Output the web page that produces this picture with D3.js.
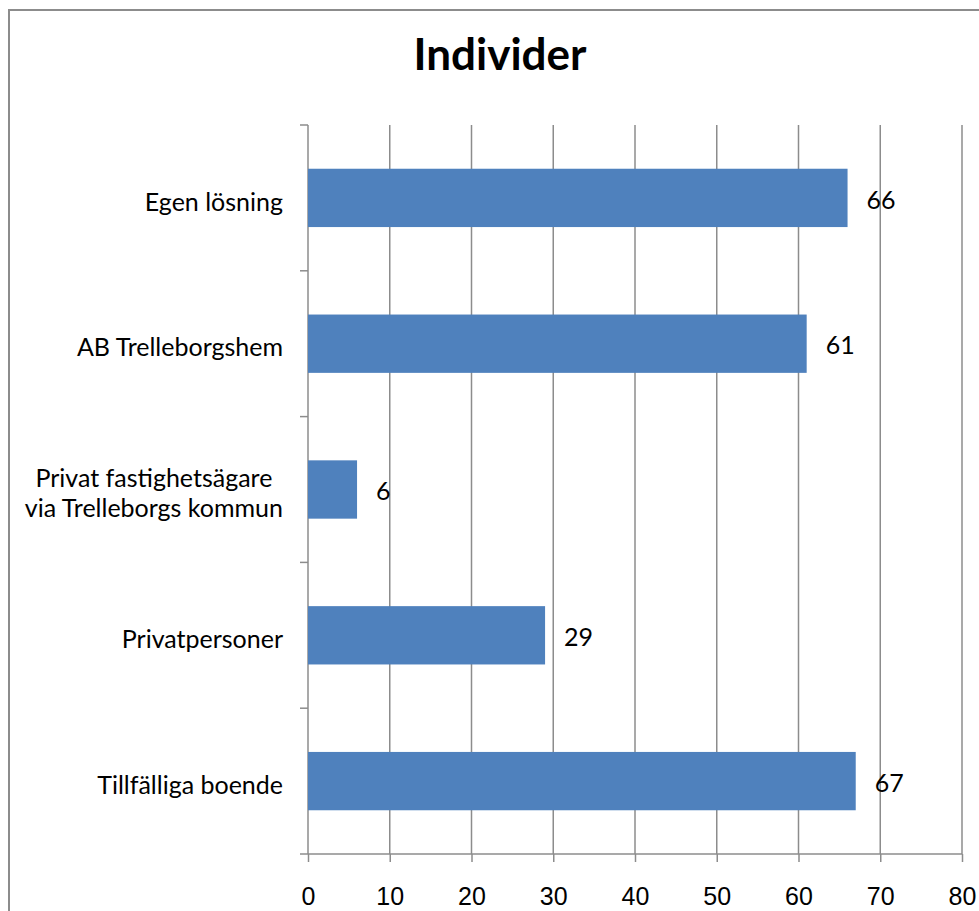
<!DOCTYPE html>
<html>
<head>
<meta charset="utf-8">
<script src="https://cdn.jsdelivr.net/npm/d3@7"></script>
<style>
  body { margin: 0; background: #fff; }
  svg { display: block; font-family: Lato, "Open Sans", sans-serif; }
</style>
</head>
<body>
<svg width="979" height="911"></svg>
<script>
// chart data, top to bottom
var categories = ['Egen lösning', 'AB Trelleborgshem', 'Privat fastighetsägare\nvia Trelleborgs kommun', 'Privatpersoner', 'Tillfälliga boende'];
var values = [66, 61, 6, 29, 67];
var xTicks = [0, 10, 20, 30, 40, 50, 60, 70, 80];
var title = 'Individer';

var svg = d3.select('svg');
var gridColor = '#8c8c8c';
var fontSize = '25px';

// outer frame
svg.append('rect')
    .attr('x', 9).attr('y', 10)
    .attr('width', 1000).attr('height', 1000)
    .attr('fill', 'none')
    .attr('stroke', '#8c8c8c')
    .attr('stroke-width', 2);

svg.append('text')
    .attr('x', 500).attr('y', 70)
    .attr('text-anchor', 'middle')
    .style('font-size', '44px')
    .style('font-weight', 'bold')
    .text(title);

var plot = {l: 308, r: 962, t: 125, b: 854};

var x = d3.scaleLinear().domain([0, 80]).range([plot.l, plot.r]);
var y = d3.scaleBand().domain(d3.range(categories.length))
    .range([plot.t, plot.b]).paddingInner(0.6).paddingOuter(0.3);

// vertical gridlines
svg.append('g').selectAll('line')
    .data(xTicks.slice(1))
    .join('line')
    .attr('x1', function(d){ return x(d); })
    .attr('x2', function(d){ return x(d); })
    .attr('y1', plot.t).attr('y2', plot.b)
    .attr('stroke', gridColor).attr('stroke-width', 1.5);

// bottom axis
var bottomAxis = d3.axisBottom(x).tickValues(xTicks).tickSize(8).tickPadding(25);
var xg = svg.append('g')
    .attr('transform', 'translate(0,' + plot.b + ')')
    .call(bottomAxis);
xg.select('.domain').attr('stroke', gridColor).attr('stroke-width', 1.5).attr('d', 'M' + plot.l + ',0H' + plot.r);
xg.selectAll('.tick line').attr('stroke', gridColor).attr('stroke-width', 1.5);
xg.selectAll('.tick text').style('font-size', fontSize).attr('fill', '#000').attr('font-family', null);

// left axis: line + ticks between categories
var step = y.step();
var yBounds = d3.range(categories.length + 1).map(function(i){ return plot.t + i * step; });
var yg = svg.append('g');
yg.append('line')
    .attr('x1', plot.l).attr('x2', plot.l)
    .attr('y1', plot.t).attr('y2', plot.b)
    .attr('stroke', gridColor).attr('stroke-width', 1.5);
yg.selectAll('.ytick')
    .data(yBounds)
    .join('line')
    .attr('class', 'ytick')
    .attr('x1', plot.l - 8).attr('x2', plot.l)
    .attr('y1', function(d){ return d; })
    .attr('y2', function(d){ return d; })
    .attr('stroke', gridColor).attr('stroke-width', 1.5);

// bars
svg.append('g').selectAll('rect')
    .data(values)
    .join('rect')
    .attr('x', x(0))
    .attr('y', function(d, i){ return y(i); })
    .attr('width', function(d){ return x(d) - x(0); })
    .attr('height', y.bandwidth())
    .attr('fill', '#4F81BD');

// value labels
svg.append('g').selectAll('text')
    .data(values)
    .join('text')
    .attr('x', function(d){ return x(d) + 19; })
    .attr('y', function(d, i){ return y(i) + y.bandwidth() / 2 + 2; })
    .attr('dy', '0.35em')
    .style('font-size', fontSize)
    .text(function(d){ return d; });

// category labels
var labelRight = 283;
var lineH = 30;
svg.append('g').selectAll('text')
    .data(categories)
    .join('text')
    .style('font-size', fontSize)
    .each(function(d, i){
        var t = d3.select(this);
        var lines = d.split('\n');
        var cy = y(i) + y.bandwidth() / 2 + 4;
        lines.forEach(function(line, j){
            t.append('tspan')
                .attr('y', cy + (j - (lines.length - 1) / 2) * lineH)
                .attr('dy', '0.35em')
                .text(line);
        });
        var maxW = 0;
        t.selectAll('tspan').each(function(){ maxW = Math.max(maxW, this.getComputedTextLength()); });
        t.attr('text-anchor', 'middle');
        t.selectAll('tspan').attr('x', labelRight - maxW / 2);
    });
</script>
</body>
</html>
